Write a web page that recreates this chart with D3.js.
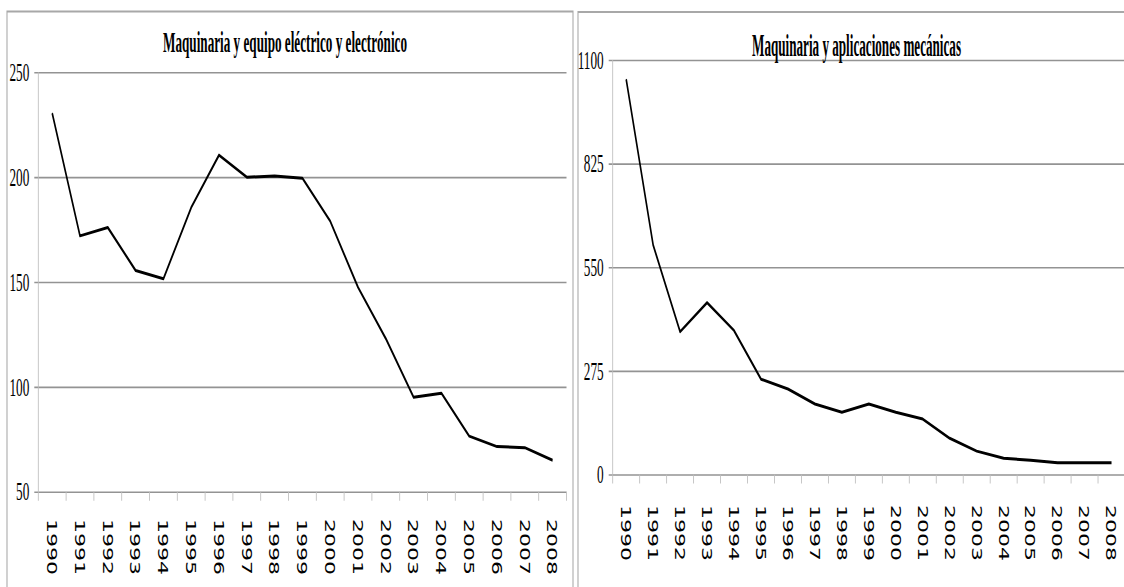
<!DOCTYPE html>
<html>
<head>
<meta charset="utf-8">
<script src="https://cdn.jsdelivr.net/npm/d3@7"></script>
<style>
  html, body { margin: 0; padding: 0; background: #fff; overflow: hidden; }
  svg { display: block; }
</style>
</head>
<body>
<svg id="chart" width="1124" height="587"></svg>
<script>
// Years on the category axis (shared by both panels)
const years = ["1990","1991","1992","1993","1994","1995","1996","1997","1998","1999",
               "2000","2001","2002","2003","2004","2005","2006","2007","2008"];

// Maquinaria y equipo eléctrico y electrónico
const electricoValues = [230.5, 172, 176, 155.5, 151.5, 185.5, 210.5, 200, 200.5, 199.5,
                         179, 147.5, 123, 95, 97, 76.5, 71.5, 71, 65];
const electricoTicks = [50, 100, 150, 200, 250];
const electricoTitle = "Maquinaria y equipo eléctrico y electrónico";

// Maquinaria y aplicaciones mecánicas
const mecanicaValues = [1049, 609, 379, 456, 382, 253, 227, 187, 165, 187,
                        165, 147, 96, 62, 43, 38, 31, 31, 31];
const mecanicaTicks = [0, 275, 550, 825, 1100];
const mecanicaTitle = "Maquinaria y aplicaciones mecánicas";

// The whole drawing is rendered horizontally condensed
const K = 0.53;
const sx = v => v / K;            // screen x -> inner x

const svg = d3.select("#chart");
const root = svg.append("g").attr("transform", `scale(${K},1)`);

function drawPanel(cfg) {
  const g = root.append("g");

  // panel frame
  g.append("rect")
    .attr("x", sx(cfg.frame.x0)).attr("y", cfg.frame.y0)
    .attr("width", sx(cfg.frame.x1 - cfg.frame.x0)).attr("height", 700)
    .attr("fill", "#fff").attr("stroke", "#a8a8a8").attr("stroke-width", 2);

  const x = d3.scaleBand().domain(years)
    .range([sx(cfg.plot.left), sx(cfg.plot.right)]).padding(0);
  const y = d3.scaleLinear().domain(cfg.domain)
    .range([cfg.plot.bottom, cfg.plot.top]);

  const plotW = x.range()[1] - x.range()[0];

  // value axis with horizontal gridlines
  const yAxis = d3.axisLeft(y)
    .tickValues(cfg.ticks)
    .tickSize(-plotW)
    .tickSizeOuter(0)
    .tickFormat(d3.format("d"));

  const ya = g.append("g")
    .attr("transform", `translate(${x.range()[0]},0)`)
    .call(yAxis);
  ya.select(".domain").remove();
  ya.selectAll(".tick line")
    .attr("x1", -sx(4))
    .attr("stroke", "#939393")
    .attr("stroke-width", 1.6);
  ya.selectAll(".tick text")
    .attr("x", -sx(9))
    .attr("dy", "0.33em")
    .attr("fill", "#000")
    .style("font-family", "'Liberation Serif', 'Times New Roman', serif")
    .style("font-size", "25px");

  // vertical axis line
  g.append("line")
    .attr("x1", x.range()[0]).attr("x2", x.range()[0])
    .attr("y1", cfg.plot.top).attr("y2", cfg.plot.bottom)
    .attr("stroke", "#bdbdbd").attr("stroke-width", 1.6);

  // category tick marks at band boundaries
  const bounds = d3.range(years.length + 1).map(i => x.range()[0] + i * x.step());
  g.append("g").selectAll("line").data(bounds).join("line")
    .attr("x1", d => d).attr("x2", d => d)
    .attr("y1", cfg.plot.bottom).attr("y2", cfg.plot.bottom + 9)
    .attr("stroke", "#bdbdbd").attr("stroke-width", 1.6);

  // rotated year labels
  g.append("g").selectAll("text").data(years).join("text")
    .attr("transform", d => `translate(${x(d) + x.bandwidth() / 2},${cfg.labelTop}) rotate(90)`)
    .attr("dy", "0.36em")
    .attr("text-anchor", "start")
    .attr("textLength", 56)
    .attr("lengthAdjust", "spacingAndGlyphs")
    .attr("fill", "#000")
    .style("font-family", "'DejaVu Sans', Verdana, sans-serif")
    .style("font-size", "27px")
    .text(d => d);

  // series line
  const line = d3.line()
    .x((d, i) => x(years[i]) + x.bandwidth() / 2)
    .y(d => y(d));
  g.append("path")
    .datum(cfg.values)
    .attr("d", line)
    .attr("fill", "none")
    .attr("stroke", "#000")
    .attr("stroke-width", 3)
    .attr("stroke-linejoin", "round")
    .attr("stroke-linecap", "butt");

  // panel title
  g.append("text")
    .attr("x", sx(cfg.title.cx))
    .attr("y", cfg.title.baseline)
    .attr("text-anchor", "middle")
    .attr("textLength", sx(cfg.title.width))
    .attr("lengthAdjust", "spacingAndGlyphs")
    .attr("fill", "#000")
    .style("font-family", "'Liberation Serif', 'Times New Roman', serif")
    .style("font-weight", "bold")
    .style("font-size", cfg.title.size + "px")
    .text(cfg.title.text);
}

drawPanel({
  frame: { x0: 7, y0: 11.5, x1: 573 },
  plot: { left: 38.3, right: 566.5, top: 72.3, bottom: 491.7 },
  domain: [50, 250],
  ticks: electricoTicks,
  values: electricoValues,
  labelTop: 519,
  title: { text: electricoTitle, cx: 285, baseline: 52, width: 244, size: 30 }
});

drawPanel({
  frame: { x0: 578, y0: 12, x1: 1160 },
  plot: { left: 612.7, right: 1125, top: 60, bottom: 474.5 },
  domain: [0, 1100],
  ticks: mecanicaTicks,
  values: mecanicaValues,
  labelTop: 505,
  title: { text: mecanicaTitle, cx: 856.5, baseline: 56, width: 209, size: 32 }
});
</script>
</body>
</html>
